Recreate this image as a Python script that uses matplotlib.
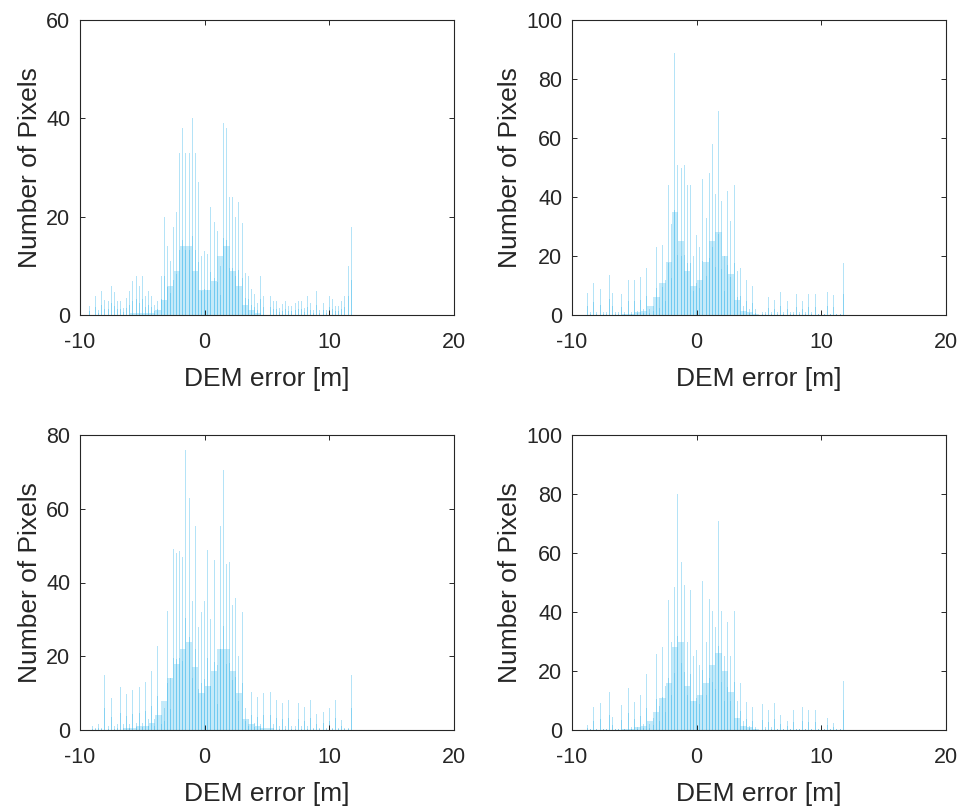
import numpy as np
import matplotlib
matplotlib.use("Agg")
import matplotlib.pyplot as plt

plt.rcParams['font.family'] = ['Liberation Sans', 'DejaVu Sans']
plt.rcParams['axes.unicode_minus'] = False

# bin centres (m) for the tall thin spikes and for the dense lower part
peak_centers = np.arange(-9.25, 11.76, 0.25)
core_centers = np.arange(-9.25, 11.76, 0.5)

# tallest spike per 0.25 m (top-left, top-right, bottom-left, bottom-right)
peaks_a = [1.8, 0, 3.9, 1,  4.9, 3, 2.8, 6,  4.7, 2.8, 2.8, 1.5,  3.5, 4.9, 6.9, 7.9,
           5.9, 7.9, 3.9, 4.9,  3.9, 2, 2.8, 7.9,  20, 14, 11, 18,  21, 33, 38, 33,
           33, 40, 33, 27,  12, 13, 12.5, 22,  19, 17, 10, 39,  38, 24, 24, 20,
           23, 18.7, 8.6, 7.9,  5.2, 4.3, 2.5, 7.9,  3.9, 3.2, 3.9, 2.8,  2.8, 1.5, 2.2, 2.8,
           1.8, 1.8, 2.5, 2.8,  2.8, 1.5, 3.9, 2.5,  1, 4.9, 1, 2.5,  1, 3.9, 3.2, 1.8,
           1.8, 2.8, 3.9, 9.9,  17.8]
peaks_b = [0, 0, 7.5, 1,  10.7, 1, 8.7, 1,  1, 13.7, 7.5, 1,  1, 7, 1, 11.8,
           1, 11.8, 1.5, 12.9,  2, 16, 2, 3,  22.9, 6, 23.8, 12,  44, 31, 88.8, 51,
           50, 51, 44, 44,  20, 27, 23, 46,  33, 48, 58, 41,  69, 38.7, 20, 42,
           32, 44, 15, 16,  3, 12, 2, 10,  2, 6.4, 1, 1,  6, 1, 5, 1,
           7.8, 1, 4.7, 1,  1, 7, 1, 4.7,  1, 7, 1, 7,  0.5, 1, 0.5, 7.9,
           0.5, 6.7, 0.5, 0.5,  17.6]
peaks_c = [0, 1, 0.5, 1.6,  0.5, 14.9, 1, 8.6,  1, 1.5, 11.7, 1.5,  9.7, 1.5, 10.8, 2,
           11.7, 2, 13, 3,  16, 3, 22.9, 4,  6, 32.2, 14, 49.1,  48, 48.5, 47, 76,
           62.9, 35, 55.2, 28,  32, 34.9, 48.7, 30,  46.2, 17.6, 55.2, 70.4,  45, 45.5, 33.8, 35.8,
           20, 31.9, 6, 3,  10.2, 2, 9, 1.5,  9.9, 1.5, 10.2, 1.5,  8.1, 1, 7.2, 1,
           8.1, 1, 1, 7.2,  1, 6.3, 1, 8.1,  0.5, 4.3, 0.5, 5,  0.5, 5.9, 0.5, 8.1,
           0.5, 2.7, 0.5, 0.5,  14.9]
peaks_d = [0, 0, 1.7, 0.5,  7.9, 0.5, 9, 0.5,  0.5, 13, 4.5, 0.5,  0.5, 8.5, 0.5, 14.1,
           1, 9.6, 1, 11.8,  2, 18.9, 2, 4,  25.9, 8, 28.2, 15,  44, 30, 48.5, 79.9,
           57, 49, 30, 47.5,  25, 27, 22, 50.6,  30, 44.4, 40.5, 35,  70.8, 40.5, 25, 36.6,
           25, 40.5, 10, 15.9,  3, 9.6, 1.5, 7.9,  1, 1, 8.8, 1,  6.8, 1, 9, 0.5,
           5.1, 0.5, 3.2, 0.5,  6.8, 0.5, 0.5, 7.9,  0.5, 6.8, 0.5, 6.8,  0.5, 1.7, 0.5, 3.9,
           0.5, 2.5, 0.5, 0.5,  16.7]

# height of the dense (darker) part per 0.5 m
core_a = [0, 0, 0, 0, 0, 0, 0, 0.5, 0.5, 0.5,
          0.5, 1, 3, 6, 9, 14, 14, 9, 5, 5,
          7, 12, 14, 9, 6, 2, 1, 0.5, 0, 0,
          0, 0, 0, 0, 0, 0, 0, 0, 0, 0,
          0, 0, 0]
core_b = [0, 0, 0, 0, 0, 0, 0, 0.5, 0.5, 1,
          1.5, 3, 6, 11, 18, 35, 25, 15, 10, 12,
          18, 25, 28, 20, 14, 5, 1.5, 1, 0.5, 0,
          0, 0, 0, 0, 0, 0, 0, 0, 0, 0,
          0, 0, 0]
core_c = [0, 0, 0, 0, 0, 0, 0.5, 0.5, 1, 1,
          2, 4, 8, 14, 18, 22, 24, 17, 10, 12,
          16, 22, 22, 16, 10, 3, 1.5, 1, 0.5, 0.5,
          0, 0, 0, 0, 0, 0, 0, 0, 0, 0,
          0, 0, 0]
core_d = [0, 0, 0, 0, 0, 0, 0, 0.5, 0.5, 1,
          1.5, 3, 6, 11, 16, 28, 30, 15, 10, 12,
          16, 22, 26, 20, 13, 4, 1.5, 1, 0.5, 0,
          0, 0, 0, 0, 0, 0, 0, 0, 0, 0,
          0, 0, 0]

y_max = [60, 100, 80, 100]
x_ticks = [-10, 0, 10, 20]

BAR = '#4DBEEE'
INK = '#262626'

fig = plt.figure(figsize=(9.65, 8.09), dpi=100)
W, H = 965, 809
boxes = [(80, 20), (572, 20), (80, 435), (572, 435)]
panels = [(peaks_a, core_a), (peaks_b, core_b), (peaks_c, core_c), (peaks_d, core_d)]

for (px, py), (peaks, core), ym in zip(boxes, panels, y_max):
    ax = fig.add_axes([px / W, 1 - (py + 295) / H, 374 / W, 295 / H])
    ax.bar(core_centers, core, width=0.5, color=BAR, alpha=0.32, linewidth=0)
    ax.bar(peak_centers, peaks, width=0.08, color=BAR, alpha=0.42, linewidth=0)
    # darker lower part of each spike
    ax.bar(peak_centers, np.array(peaks) * 0.4, width=0.08,
           color=BAR, alpha=0.45, linewidth=0)
    ax.set_xlim(-10, 20)
    ax.set_ylim(0, ym)
    ax.set_xticks(x_ticks)
    ax.set_yticks(np.arange(0, ym + 1, 20))
    ax.tick_params(direction='in', top=True, right=True, length=3.5, width=0.7,
                   colors=INK, labelsize=15.5, pad=7)
    ax.tick_params(axis='x', pad=12)
    for s in ax.spines.values():
        s.set_color(INK)
        s.set_linewidth(0.8)
    ax.set_xlabel('DEM error [m]', fontsize=19, color=INK, labelpad=10)
    ax.set_ylabel('Number of Pixels', fontsize=19, color=INK, labelpad=3)

fig.savefig('out.png', dpi=100)
